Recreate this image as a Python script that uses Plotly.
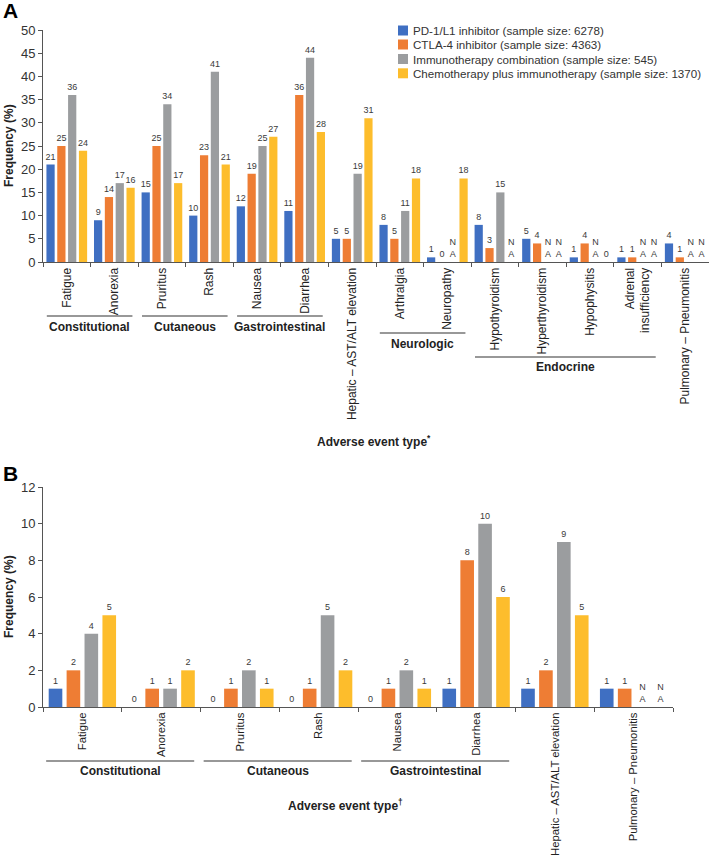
import plotly.graph_objects as go

# ---------------- data ----------------
series_names = [
    "PD-1/L1 inhibitor (sample size: 6278)",
    "CTLA-4 inhibitor (sample size: 4363)",
    "Immunotherapy combination (sample size: 545)",
    "Chemotherapy plus immunotherapy (sample size: 1370)",
]
series_colors = ["#3F6FC2", "#EE7D34", "#9B9D9F", "#FDBD2C"]

cats_a = ["Fatigue", "Anorexia", "Pruritus", "Rash", "Nausea", "Diarrhea",
          "Hepatic – AST/ALT elevation", "Arthralgia", "Neuropathy",
          "Hypothyroidism", "Hyperthyroidism", "Hypophysitis",
          "Adrenal<br>insufficiency", "Pulmonary – Pneumonitis"]
pd1_a = [21, 9, 15, 10, 12, 11, 5, 8, 1, 8, 5, 1, 1, 4]
ctla4_a = [25, 14, 25, 23, 19, 36, 5, 5, 0, 3, 4, 4, 1, 1]
combo_a = [36, 17, 34, 41, 25, 44, 19, 11, None, 15, None, None, None, None]
chemo_a = [24, 16, 17, 21, 27, 28, 31, 18, 18, None, None, 0, None, None]

cats_b = ["Fatigue", "Anorexia", "Pruritus", "Rash", "Nausea", "Diarrhea",
          "Hepatic – AST/ALT elevation", "Pulmonary – Pneumonitis"]
pd1_b = [1, 0, 0, 0, 0, 1, 1, 1]
ctla4_b = [2, 1, 1, 1, 1, 8, 2, 1]
combo_b = [4, 1, 2, 5, 2, 10, 9, None]
chemo_b = [5, 2, 1, 2, 1, 6, 5, None]

groups_a = [("Constitutional", 0, 1), ("Cutaneous", 2, 3), ("Gastrointestinal", 4, 5),
            ("Neurologic", 7, 8), ("Endocrine", 9, 12)]
groups_b = [("Constitutional", 0, 1), ("Cutaneous", 2, 3), ("Gastrointestinal", 4, 5)]

# ---------------- layout constants (pixels) ----------------
W, H = 709, 859
FONT = "Liberation Sans, Arial, sans-serif"


def px_x(p):
    return p / W


def px_y(p):
    return 1 - p / H


fig = go.Figure()


def add_panel(cats, values_list, xa, ya):
    for name, color, vals in zip(series_names, series_colors, values_list):
        yv = [0 if v is None else v for v in vals]
        tx = ["N<br>A" if v is None else str(v) for v in vals]
        fig.add_trace(go.Bar(
            x=cats, y=yv, text=tx, name=name,
            marker=dict(color=color, line=dict(width=0)),
            textposition="outside", constraintext="none", textangle=0,
            textfont=dict(size=9, color="#3a3a3a", family=FONT),
            cliponaxis=False, showlegend=False,
            xaxis=xa, yaxis=ya, hoverinfo="x+y+name",
        ))


add_panel(cats_a, [pd1_a, ctla4_a, combo_a, chemo_a], "x", "y")
add_panel(cats_b, [pd1_b, ctla4_b, combo_b, chemo_b], "x2", "y2")

axis_common = dict(showline=True, linecolor="#555555", linewidth=1, ticks="outside",
                   tickcolor="#555555", ticklen=4, showgrid=False, zeroline=False,
                   automargin=False)

fig.update_layout(
    width=W, height=H, margin=dict(l=0, r=0, t=0, b=0, pad=0, autoexpand=False),
    paper_bgcolor="white", plot_bgcolor="white",
    font=dict(family=FONT, color="#222222"),
    barmode="group", bargap=0.09, bargroupgap=0.24,
    showlegend=False,
    xaxis=dict(domain=[px_x(43), px_x(709)], anchor="y", type="category",
               range=[-0.5, len(cats_a) - 0.5], tickson="boundaries",
               tickangle=-90, tickfont=dict(size=12, color="#222222"), **axis_common),
    yaxis=dict(domain=[px_y(262), px_y(30)], anchor="x", range=[0, 50], dtick=5,
               tickfont=dict(size=13, color="#333333"), **axis_common),
    xaxis2=dict(domain=[px_x(43), px_x(673)], anchor="y2", type="category",
                range=[-0.5, len(cats_b) - 0.5], tickson="boundaries",
                tickangle=-90, tickfont=dict(size=11.3, color="#222222"), **axis_common),
    yaxis2=dict(domain=[px_y(707), px_y(487)], anchor="x2", range=[0, 12], dtick=2,
                tickfont=dict(size=13, color="#333333"), **axis_common),
)

shapes = []
annotations = []


# group brackets
def add_groups(groups, xref, line_px, text_px, lpad, rpad):
    for i, (name, a, b) in enumerate(groups):
        lp = line_px[i] if isinstance(line_px, list) else line_px
        tp = text_px[i] if isinstance(text_px, list) else text_px
        shapes.append(dict(type="line", xref=xref, yref="paper",
                           x0=a - lpad, x1=b + rpad, y0=px_y(lp), y1=px_y(lp),
                           line=dict(color="#333333", width=1.2)))
        annotations.append(dict(xref=xref, yref="paper",
                                x=(a - lpad + b + rpad) / 2, y=px_y(tp),
                                text="<b>" + name + "</b>", showarrow=False,
                                xanchor="center", yanchor="middle",
                                font=dict(size=12, color="#222222", family=FONT)))


add_groups(groups_a, "x", [316, 316, 316, 333, 357], [327, 327, 327, 344, 367], 0.42, 0.38)
add_groups(groups_b, "x2", 761, 771, 0.46, 0.42)

# legend (manual, compact spacing)
leg_rows = [30.5, 44.5, 59, 73.3]
for name, color, yc in zip(series_names, series_colors, leg_rows):
    shapes.append(dict(type="rect", xref="paper", yref="paper",
                       x0=px_x(398), x1=px_x(408), y0=px_y(yc + 5), y1=px_y(yc - 5),
                       fillcolor=color, line=dict(width=0)))
    annotations.append(dict(xref="paper", yref="paper", x=px_x(411), y=px_y(yc),
                            text=name, showarrow=False, xanchor="left", yanchor="middle",
                            font=dict(size=11.6, color="#333333", family=FONT)))

# axis titles & panel letters
for text, x, y in [("Frequency (%)", 9, 146), ("Frequency (%)", 9, 597)]:
    annotations.append(dict(xref="paper", yref="paper", x=px_x(x), y=px_y(y),
                            text="<b>" + text + "</b>", textangle=-90, showarrow=False,
                            xanchor="center", yanchor="middle",
                            font=dict(size=12, color="#222222", family=FONT)))
for text, x, y in [("Adverse event type<sup>*</sup>", 374, 441),
                   ("Adverse event type<sup>†</sup>", 345, 805)]:
    annotations.append(dict(xref="paper", yref="paper", x=px_x(x), y=px_y(y),
                            text="<b>" + text + "</b>", showarrow=False,
                            xanchor="center", yanchor="middle",
                            font=dict(size=12, color="#222222", family=FONT)))
for text, y in [("A", 10), ("B", 474)]:
    annotations.append(dict(xref="paper", yref="paper", x=px_x(1), y=px_y(y),
                            text="<b>" + text + "</b>", showarrow=False,
                            xanchor="left", yanchor="middle",
                            font=dict(size=21, color="#000000", family=FONT)))

fig.update_layout(shapes=shapes, annotations=annotations)
fig.write_html("out.html",
               config={"displayModeBar": False},
               post_script="document.body.style.margin='0';document.body.style.overflow='hidden';")
